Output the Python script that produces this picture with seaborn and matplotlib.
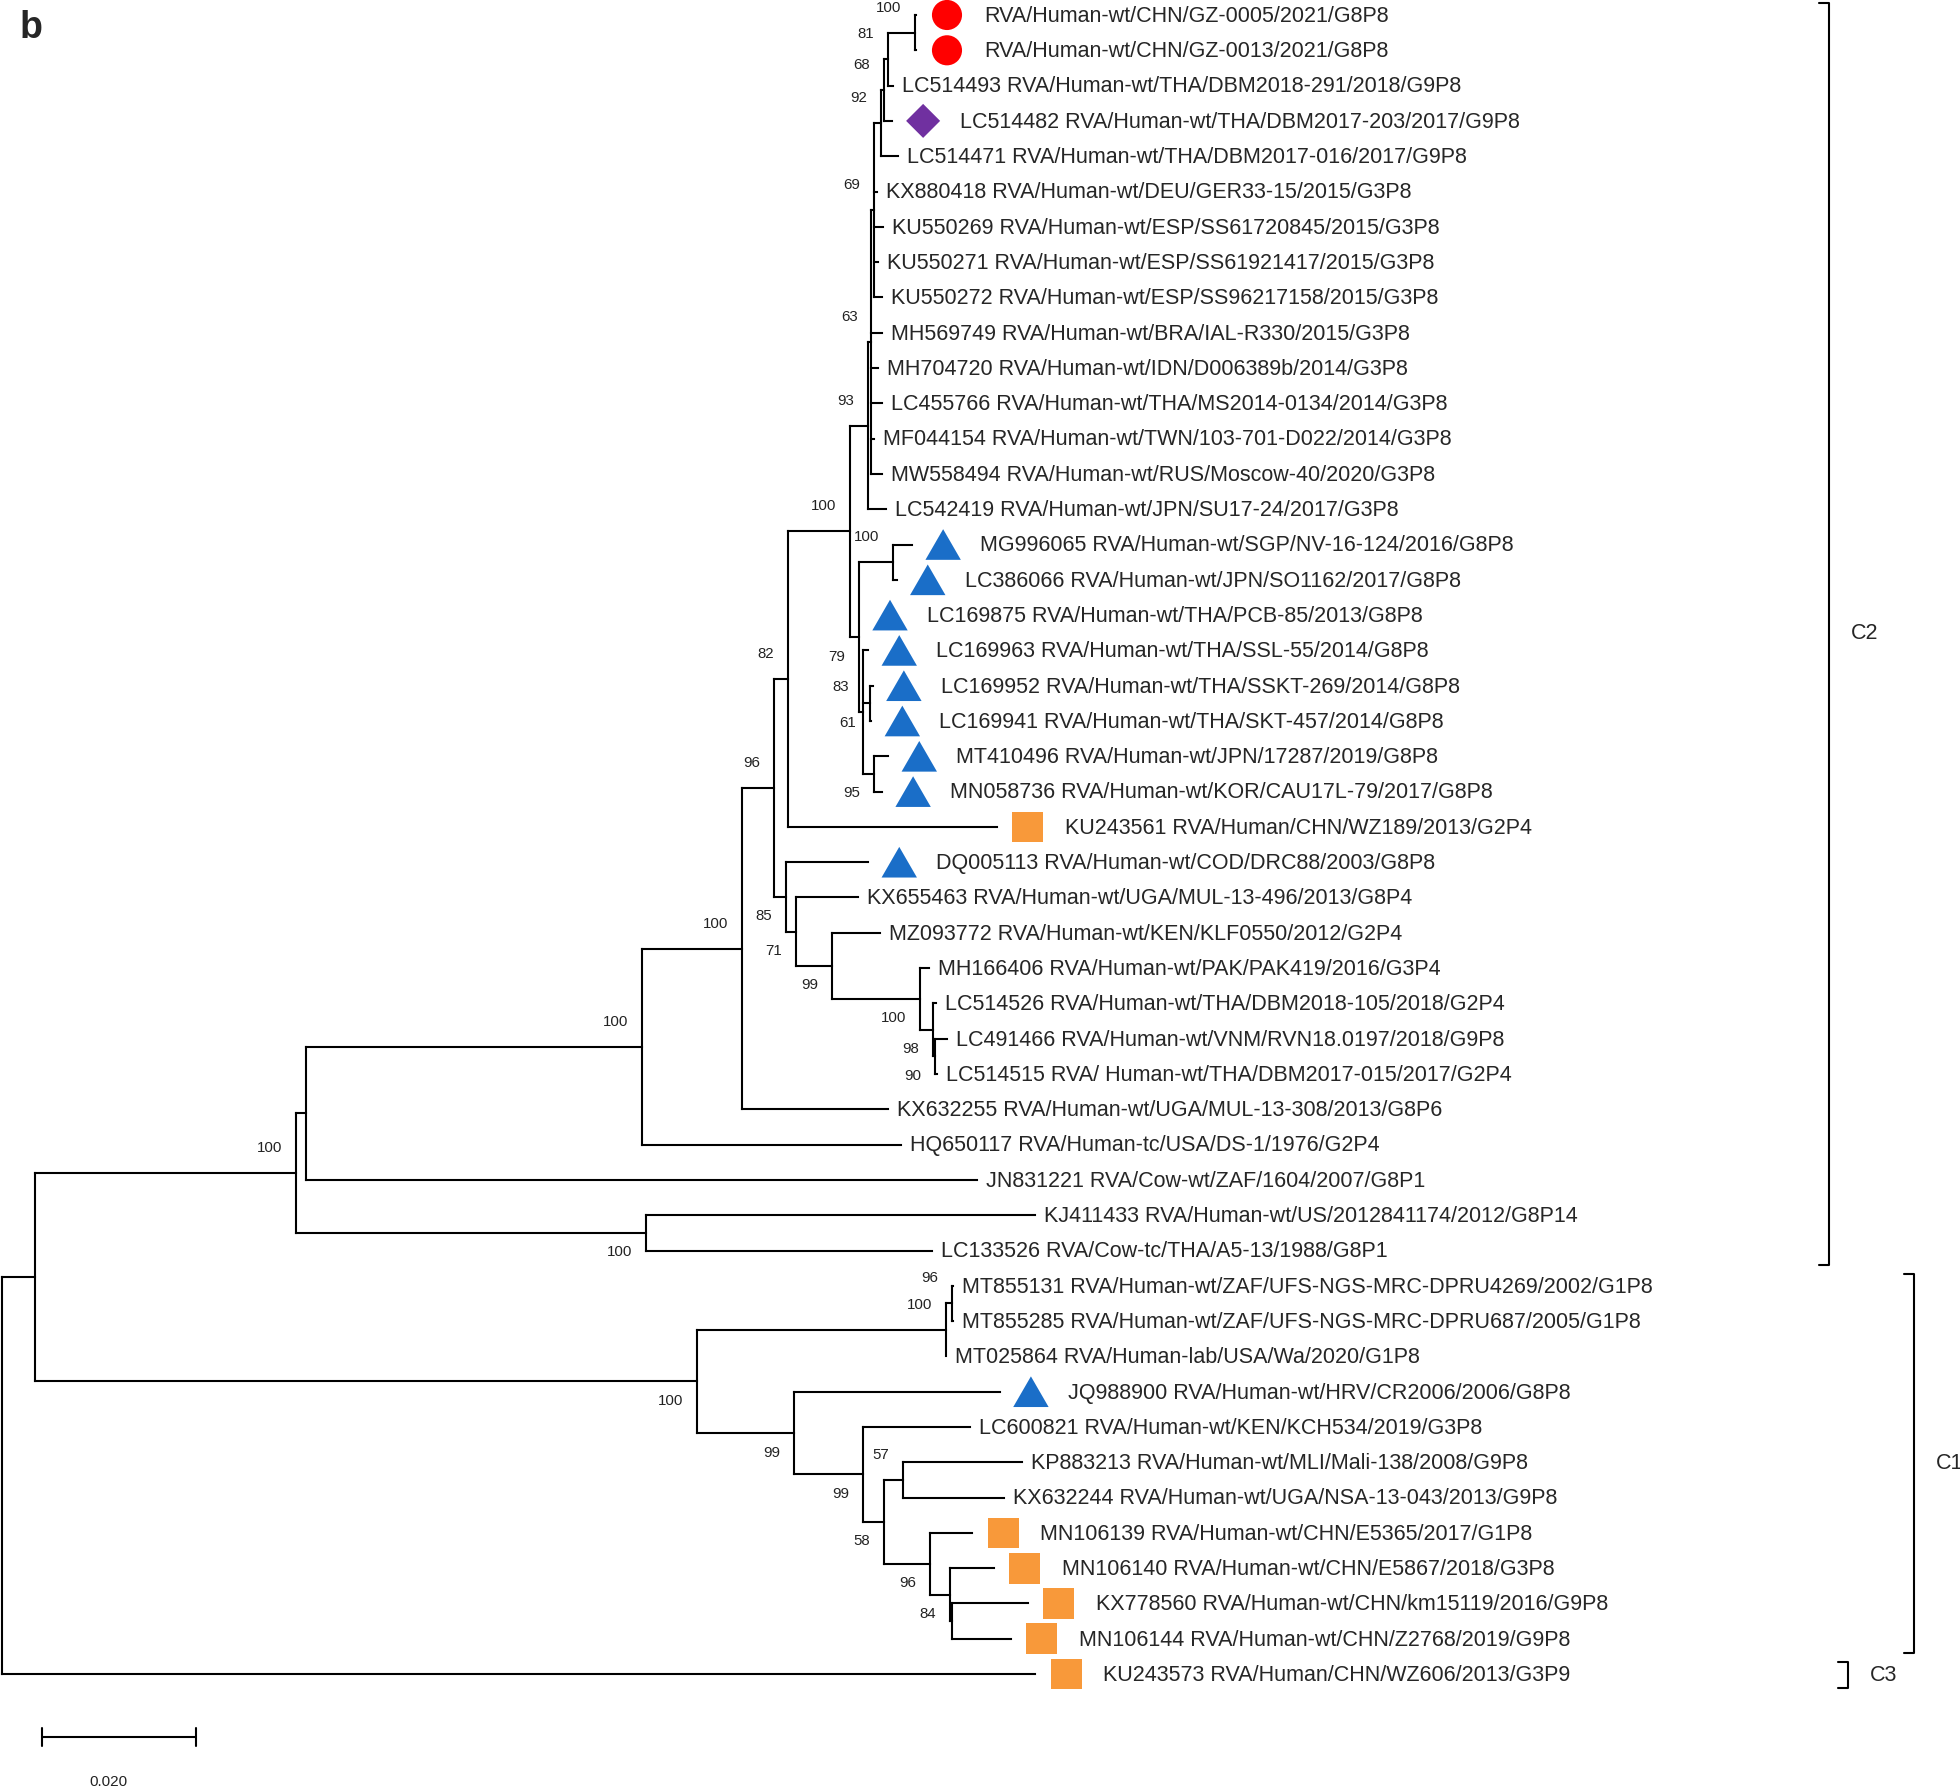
import pandas as pd
import seaborn as sns
import matplotlib.pyplot as plt
from matplotlib.collections import LineCollection
from matplotlib.path import Path

# ---- tips, top to bottom ----
tip_names = [
    "RVA/Human-wt/CHN/GZ-0005/2021/G8P8",
    "RVA/Human-wt/CHN/GZ-0013/2021/G8P8",
    "LC514493 RVA/Human-wt/THA/DBM2018-291/2018/G9P8",
    "LC514482 RVA/Human-wt/THA/DBM2017-203/2017/G9P8",
    "LC514471 RVA/Human-wt/THA/DBM2017-016/2017/G9P8",
    "KX880418 RVA/Human-wt/DEU/GER33-15/2015/G3P8",
    "KU550269 RVA/Human-wt/ESP/SS61720845/2015/G3P8",
    "KU550271 RVA/Human-wt/ESP/SS61921417/2015/G3P8",
    "KU550272 RVA/Human-wt/ESP/SS96217158/2015/G3P8",
    "MH569749 RVA/Human-wt/BRA/IAL-R330/2015/G3P8",
    "MH704720 RVA/Human-wt/IDN/D006389b/2014/G3P8",
    "LC455766 RVA/Human-wt/THA/MS2014-0134/2014/G3P8",
    "MF044154 RVA/Human-wt/TWN/103-701-D022/2014/G3P8",
    "MW558494 RVA/Human-wt/RUS/Moscow-40/2020/G3P8",
    "LC542419 RVA/Human-wt/JPN/SU17-24/2017/G3P8",
    "MG996065 RVA/Human-wt/SGP/NV-16-124/2016/G8P8",
    "LC386066 RVA/Human-wt/JPN/SO1162/2017/G8P8",
    "LC169875 RVA/Human-wt/THA/PCB-85/2013/G8P8",
    "LC169963 RVA/Human-wt/THA/SSL-55/2014/G8P8",
    "LC169952 RVA/Human-wt/THA/SSKT-269/2014/G8P8",
    "LC169941 RVA/Human-wt/THA/SKT-457/2014/G8P8",
    "MT410496 RVA/Human-wt/JPN/17287/2019/G8P8",
    "MN058736 RVA/Human-wt/KOR/CAU17L-79/2017/G8P8",
    "KU243561 RVA/Human/CHN/WZ189/2013/G2P4",
    "DQ005113 RVA/Human-wt/COD/DRC88/2003/G8P8",
    "KX655463 RVA/Human-wt/UGA/MUL-13-496/2013/G8P4",
    "MZ093772 RVA/Human-wt/KEN/KLF0550/2012/G2P4",
    "MH166406 RVA/Human-wt/PAK/PAK419/2016/G3P4",
    "LC514526 RVA/Human-wt/THA/DBM2018-105/2018/G2P4",
    "LC491466 RVA/Human-wt/VNM/RVN18.0197/2018/G9P8",
    "LC514515 RVA/ Human-wt/THA/DBM2017-015/2017/G2P4",
    "KX632255 RVA/Human-wt/UGA/MUL-13-308/2013/G8P6",
    "HQ650117 RVA/Human-tc/USA/DS-1/1976/G2P4",
    "JN831221 RVA/Cow-wt/ZAF/1604/2007/G8P1",
    "KJ411433 RVA/Human-wt/US/2012841174/2012/G8P14",
    "LC133526 RVA/Cow-tc/THA/A5-13/1988/G8P1",
    "MT855131 RVA/Human-wt/ZAF/UFS-NGS-MRC-DPRU4269/2002/G1P8",
    "MT855285 RVA/Human-wt/ZAF/UFS-NGS-MRC-DPRU687/2005/G1P8",
    "MT025864 RVA/Human-lab/USA/Wa/2020/G1P8",
    "JQ988900 RVA/Human-wt/HRV/CR2006/2006/G8P8",
    "LC600821 RVA/Human-wt/KEN/KCH534/2019/G3P8",
    "KP883213 RVA/Human-wt/MLI/Mali-138/2008/G9P8",
    "KX632244 RVA/Human-wt/UGA/NSA-13-043/2013/G9P8",
    "MN106139 RVA/Human-wt/CHN/E5365/2017/G1P8",
    "MN106140 RVA/Human-wt/CHN/E5867/2018/G3P8",
    "KX778560 RVA/Human-wt/CHN/km15119/2016/G9P8",
    "MN106144 RVA/Human-wt/CHN/Z2768/2019/G9P8",
    "KU243573 RVA/Human/CHN/WZ606/2013/G3P9",
]

# distance from root (substitutions/site)
tip_depth = [
    0.1187, 0.1187, 0.1157, 0.1156, 0.1164, 0.1136, 0.1144, 0.1138,
    0.1143, 0.1143, 0.1138, 0.1143, 0.1132, 0.1143, 0.1148, 0.1182,
    0.1162, 0.1113, 0.1125, 0.1131, 0.1129, 0.1151, 0.1143, 0.1292,
    0.1125, 0.1112, 0.1140, 0.1204, 0.1213, 0.1227, 0.1214, 0.1151,
    0.1168, 0.1266, 0.1342, 0.1208, 0.1235, 0.1235, 0.1226, 0.1296,
    0.1257, 0.1325, 0.1301, 0.1260, 0.1288, 0.1332, 0.1310, 0.1342,
]

# marker group per tip ("" = none)
tip_mark = [
    "study", "study", "", "thai", "", "", "", "", "", "", "", "", "", "", "",
    "g8", "g8", "g8", "g8", "g8", "g8", "g8", "g8", "china", "g8",
    "", "", "", "", "", "", "", "", "", "", "", "", "", "",
    "g8", "", "", "", "china", "china", "china", "china", "china",
]

# ---- internal nodes ----
node_ids = [
    "root", "A", "B", "B1", "KJLC", "C2", "n742", "n96", "n82", "n849",
    "n93", "n63", "n69", "n92", "n68", "n81", "n100t", "n79", "n893", "n83",
    "n61", "n95", "n85", "n71", "n99", "n100b", "n98", "n90",
    "C1", "mt", "mt2", "c1b", "c1c", "c1d", "n4142", "c1e", "c1f", "ng",
]
node_depth = [
    0.0, 0.0043, 0.0382, 0.0395, 0.0836, 0.0831, 0.0961, 0.1003, 0.1021, 0.1101,
    0.1125, 0.1129, 0.1132, 0.1142, 0.1145, 0.1151, 0.1186, 0.1113, 0.1157, 0.1118,
    0.1127, 0.1132, 0.1018, 0.1031, 0.1078, 0.1192, 0.1209, 0.1212,
    0.0903, 0.1226, 0.1234, 0.1029, 0.1118, 0.1145, 0.1170, 0.1205, 0.1231, 0.1234,
]
node_kids = [
    ["A", 47], ["B", "C1"], ["B1", "KJLC"], ["C2", 33], [34, 35],
    ["n742", 32], ["n96", 31], ["n82", "n85"], ["n849", 23], ["n93", "n79"],
    ["n63", 14], ["n69", 9, 10, 11, 12, 13], ["n92", 5, 6, 7, 8], ["n68", 4],
    ["n81", 3], ["n100t", 2], [0, 1], ["n893", 17, "n83"], [15, 16],
    [18, "n61", "n95"], [19, 20], [21, 22], [24, "n71"], [25, "n99"],
    [26, "n100b"], [27, "n98"], [28, "n90"], [29, 30],
    ["mt", "c1b"], ["mt2", 38], [36, 37], [39, "c1c"], [40, "c1d"],
    ["n4142", "c1e"], [41, 42], [43, "c1f"], [44, "ng"], [45, 46],
]
node_boot = [
    None, None, 100, None, 100, 100, 100, 96, 82, 100,
    93, 63, 69, 92, 68, 81, 100, 79, 100, 83,
    61, 95, 85, 71, 99, 100, 98, 90,
    100, 100, 96, 99, 99, 58, 57, 96, 84, None,
]
# bootstrap label above or below the branch
node_side = [
    "", "", "a", "", "b", "a", "a", "a", "a", "a",
    "a", "a", "a", "a", "a", "a", "a", "b", "a", "a",
    "b", "b", "b", "b", "b", "b", "b", "b",
    "b", "a", "a", "b", "b", "b", "a", "b", "b", "",
]

clades = ["C2", "C1", "C3"]
clade_first = [0, 36, 47]
clade_last = [35, 46, 47]

# ---- layout (figure pixels) ----
W, H, DPI = 1960, 1789, 100
PX = 7700.0          # pixels per substitution unit
ROW0, ROWH = 15, 35.3
MARK_GAP = 31 / PX
LW = 1.5

sns.set_style("white")
plt.rcParams['font.family'] = ['Liberation Sans', 'DejaVu Sans']

fig = plt.figure(figsize=(W / DPI, H / DPI), dpi=DPI)
ax = fig.add_axes([0, 0, 1, 1])

depth = {i: d for i, d in enumerate(tip_depth)}
depth.update(dict(zip(node_ids, node_depth)))
kids = dict(zip(node_ids, node_kids))
ypos = {i: float(i) for i in range(len(tip_names))}


def place(n):
    if n not in ypos:
        ys = [place(c) for c in kids[n]]
        ypos[n] = (ys[0] + ys[-1]) / 2
    return ypos[n]


place("root")

segs = []
for n in node_ids:
    ch = kids[n]
    segs.append([(depth[n], ypos[ch[0]]), (depth[n], ypos[ch[-1]])])
    for c in ch:
        segs.append([(depth[n], ypos[c]), (depth[c], ypos[c])])
ax.add_collection(LineCollection(segs, colors="black", linewidths=LW,
                                 capstyle="projecting", zorder=2))

# coloured tip markers
tri = Path([(-1, -0.866), (1, -0.866), (0, 0.866), (-1, -0.866)],
           [Path.MOVETO, Path.LINETO, Path.LINETO, Path.CLOSEPOLY])
dia = Path([(0, 1), (1, 0), (0, -1), (-1, 0), (0, 1)],
           [Path.MOVETO, Path.LINETO, Path.LINETO, Path.LINETO, Path.CLOSEPOLY])
marks = pd.DataFrame({
    "x": [d + MARK_GAP for d, m in zip(tip_depth, tip_mark) if m],
    "y": [i for i, m in enumerate(tip_mark) if m],
    "grp": [m for m in tip_mark if m],
})
sns.scatterplot(data=marks, x="x", y="y", hue="grp", style="grp", size="grp",
                palette={"study": "#FF0000", "thai": "#7030A0",
                         "g8": "#1A6EC8", "china": "#F8993A"},
                markers={"study": "o", "thai": dia, "g8": tri, "china": "s"},
                sizes={"study": 470, "thai": 600, "g8": 650, "china": 490},
                linewidth=0, legend=False, ax=ax, zorder=3)

for i, name in enumerate(tip_names):
    off = 49 if tip_mark[i] else 6.5
    ax.annotate(name, xy=(tip_depth[i], i), xytext=(off, -1),
                textcoords="offset points", ha="left", va="center",
                fontsize=15.5)

for n, b, s in zip(node_ids, node_boot, node_side):
    if b is None:
        continue
    dy = 18 if s == "a" else -14
    ax.annotate(str(b), xy=(depth[n], ypos[n]), xytext=(-10, dy),
                textcoords="offset points", ha="right", va="center",
                fontsize=10.8, color="#222222")

# clade brackets
bx = {"C2": 1829, "C1": 1914, "C3": 1848}
for c, a, z in zip(clades, clade_first, clade_last):
    x = (bx[c] - 2) / PX
    t = 10 / PX
    y0, y1 = a - 0.34, z + 0.4
    ax.plot([x - t, x, x, x - t], [y0, y0, y1, y1], color="black", lw=LW)
    ax.text(x + 22 / PX, (y0 + y1) / 2, c, ha="left", va="center", fontsize=15.5)

# scale bar
sb0, sby = (42 - 2) / PX, 48.78
ax.plot([sb0, sb0 + 0.02], [sby, sby], color="black", lw=LW)
for xx in (sb0, sb0 + 0.02):
    ax.plot([xx, xx], [sby - 0.25, sby + 0.25], color="black", lw=LW)
ax.text(sb0 + 0.0086, 50.07, "0.020", ha="center", va="center", fontsize=11,
        color="#222222")

fig.text(20 / W, 1 - 10 / H, "b", fontsize=27, fontweight="bold",
         ha="left", va="top")

ax.set_xlim(-2 / PX, (W - 2) / PX)
ax.set_ylim((H - ROW0) / ROWH, -ROW0 / ROWH)
ax.axis("off")

fig.savefig("out.png", dpi=DPI)
